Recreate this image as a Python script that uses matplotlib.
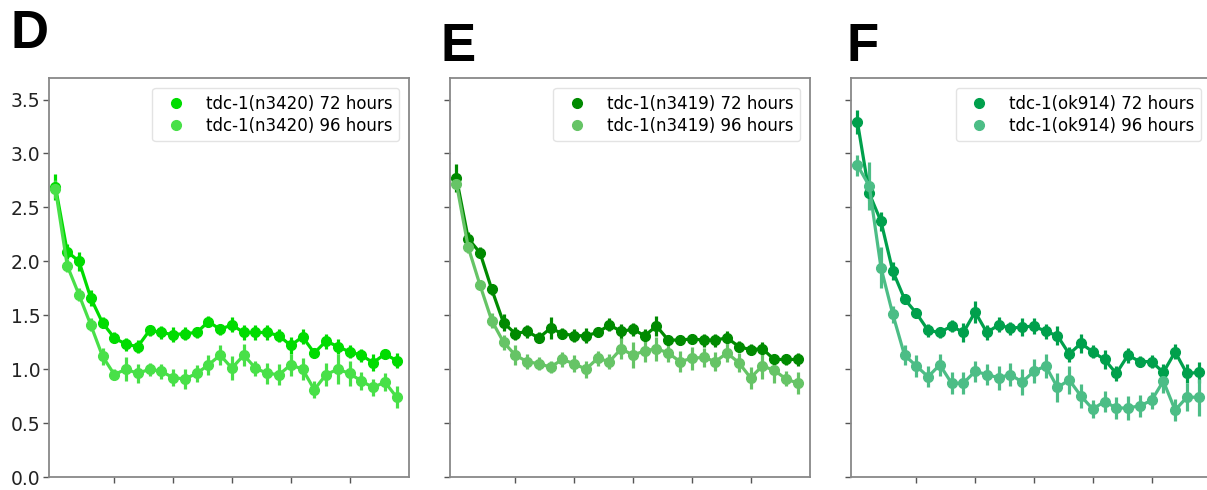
import numpy as np
import matplotlib
matplotlib.use("Agg")
import matplotlib.pyplot as plt
from matplotlib.lines import Line2D

# ---------------- data ----------------
bins = list(range(30))

d_72 = [2.69, 2.09, 2.00, 1.66, 1.43, 1.29, 1.23, 1.21, 1.36, 1.34,
        1.32, 1.33, 1.34, 1.44, 1.37, 1.41, 1.34, 1.34, 1.34, 1.31,
        1.22, 1.30, 1.15, 1.26, 1.21, 1.16, 1.13, 1.06, 1.14, 1.08]
d_72_err = [0.12, 0.07, 0.09, 0.07, 0.05, 0.05, 0.06, 0.06, 0.05, 0.06,
            0.07, 0.06, 0.05, 0.05, 0.05, 0.07, 0.07, 0.07, 0.07, 0.06,
            0.08, 0.07, 0.05, 0.07, 0.07, 0.06, 0.06, 0.08, 0.05, 0.07]
d_96 = [2.67, 1.96, 1.69, 1.41, 1.12, 0.95, 1.00, 0.96, 1.00, 0.98,
        0.92, 0.91, 0.96, 1.04, 1.13, 1.01, 1.13, 1.01, 0.96, 0.95,
        1.04, 1.00, 0.81, 0.95, 1.00, 0.96, 0.89, 0.83, 0.88, 0.74]
d_96_err = [0.08, 0.06, 0.06, 0.06, 0.08, 0.05, 0.11, 0.09, 0.06, 0.07,
            0.08, 0.09, 0.08, 0.09, 0.09, 0.11, 0.10, 0.07, 0.10, 0.10,
            0.10, 0.10, 0.08, 0.11, 0.14, 0.12, 0.08, 0.08, 0.08, 0.10]

e_72 = [2.77, 2.21, 2.08, 1.74, 1.43, 1.33, 1.35, 1.29, 1.38, 1.33,
        1.31, 1.31, 1.34, 1.41, 1.35, 1.37, 1.31, 1.40, 1.27, 1.27,
        1.28, 1.27, 1.27, 1.29, 1.21, 1.18, 1.19, 1.09, 1.09, 1.09]
e_72_err = [0.13, 0.06, 0.05, 0.05, 0.08, 0.06, 0.06, 0.05, 0.10, 0.05,
            0.06, 0.07, 0.04, 0.06, 0.07, 0.06, 0.06, 0.09, 0.05, 0.05,
            0.05, 0.06, 0.06, 0.06, 0.05, 0.05, 0.06, 0.04, 0.05, 0.06]
e_96 = [2.72, 2.13, 1.78, 1.45, 1.25, 1.13, 1.07, 1.05, 1.02, 1.09,
        1.05, 1.00, 1.10, 1.07, 1.19, 1.13, 1.17, 1.19, 1.15, 1.07,
        1.10, 1.11, 1.07, 1.15, 1.06, 0.92, 1.03, 0.99, 0.91, 0.87]
e_96_err = [0.05, 0.05, 0.05, 0.07, 0.07, 0.09, 0.07, 0.06, 0.06, 0.07,
            0.08, 0.08, 0.07, 0.07, 0.10, 0.12, 0.10, 0.11, 0.08, 0.10,
            0.11, 0.09, 0.09, 0.08, 0.09, 0.10, 0.12, 0.12, 0.07, 0.10]

f_72 = [3.29, 2.63, 2.37, 1.91, 1.65, 1.52, 1.36, 1.34, 1.40, 1.34,
        1.53, 1.34, 1.41, 1.38, 1.39, 1.40, 1.35, 1.31, 1.14, 1.24,
        1.16, 1.09, 0.96, 1.13, 1.07, 1.07, 0.97, 1.16, 0.96, 0.97]
f_72_err = [0.11, 0.06, 0.09, 0.08, 0.05, 0.05, 0.06, 0.05, 0.06, 0.09,
            0.10, 0.07, 0.07, 0.06, 0.08, 0.07, 0.07, 0.09, 0.07, 0.09,
            0.06, 0.09, 0.07, 0.07, 0.05, 0.06, 0.08, 0.07, 0.09, 0.10]
f_96 = [2.89, 2.70, 1.94, 1.51, 1.13, 1.03, 0.93, 1.04, 0.87, 0.87,
        0.98, 0.95, 0.92, 0.95, 0.88, 0.98, 1.03, 0.83, 0.90, 0.75,
        0.63, 0.70, 0.64, 0.64, 0.66, 0.71, 0.89, 0.62, 0.74, 0.74]
f_96_err = [0.10, 0.22, 0.19, 0.08, 0.09, 0.10, 0.10, 0.10, 0.10, 0.10,
            0.10, 0.10, 0.11, 0.11, 0.12, 0.11, 0.11, 0.13, 0.13, 0.11,
            0.08, 0.10, 0.10, 0.11, 0.10, 0.08, 0.11, 0.10, 0.13, 0.17]

panel_letters = ["D", "E", "F"]
strains = ["tdc-1(n3420)", "tdc-1(n3419)", "tdc-1(ok914)"]
times = ["72 hours", "96 hours"]
yticks = [0.0, 0.5, 1.0, 1.5, 2.0, 2.5, 3.0, 3.5]
xticks = [5, 10, 15, 20, 25]

series = [
    ((d_72, d_72_err), (d_96, d_96_err)),
    ((e_72, e_72_err), (e_96, e_96_err)),
    ((f_72, f_72_err), (f_96, f_96_err)),
]
colors = [("#00dc00", "#48e048"),
          ("#008a00", "#66c466"),
          ("#00a04c", "#4cbd86")]

# ---------------- figure ----------------
W, H = 1207, 490
fig = plt.figure(figsize=(W / 100, H / 100), dpi=100)

ax_left_px = [49, 450, 851]
ax_w_px = 360
ax_top_px, ax_bot_px = 78, 477
letter_pos = [(11, 48), (441, 61), (847, 61)]

for i in range(3):
    ax = fig.add_axes([ax_left_px[i] / W, 1 - ax_bot_px / H,
                       ax_w_px / W, (ax_bot_px - ax_top_px) / H])
    handles = []
    for (vals, errs), col, t in zip(series[i], colors[i], times):
        ax.errorbar(bins, vals, yerr=errs, fmt='o-', color=col,
                    markersize=7, lw=2.3, elinewidth=2.3, capsize=0,
                    zorder=3)
        handles.append(Line2D([], [], marker='o', ls='none', color=col,
                              markersize=7, label=f"{strains[i]} {t}"))
    ax.set_xlim(-0.55, 30.05)
    ax.set_ylim(0, 3.7)
    ax.set_xticks(xticks)
    ax.set_xticklabels([])
    ax.set_yticks(yticks)
    if i == 0:
        ax.set_yticklabels([f"{v:.1f}" for v in yticks], fontsize=13.5,
                           color="#222222")
    else:
        ax.set_yticklabels([])
    for sp in ax.spines.values():
        sp.set_color("#888888")
        sp.set_linewidth(1.3)
    ax.tick_params(axis='both', length=4, width=1, color="#555555", pad=2)
    leg = ax.legend(handles=handles, loc='upper right', fontsize=12,
                    labelspacing=0.25, borderaxespad=0.6, framealpha=0.8,
                    handletextpad=0.8)
    leg.get_frame().set_edgecolor("#dddddd")
    lx, ly = letter_pos[i]
    fig.text(lx / W, 1 - ly / H, panel_letters[i], fontsize=38,
             fontweight='bold', family='Liberation Sans',
             ha='left', va='baseline')

fig.savefig("out.png", dpi=100)
